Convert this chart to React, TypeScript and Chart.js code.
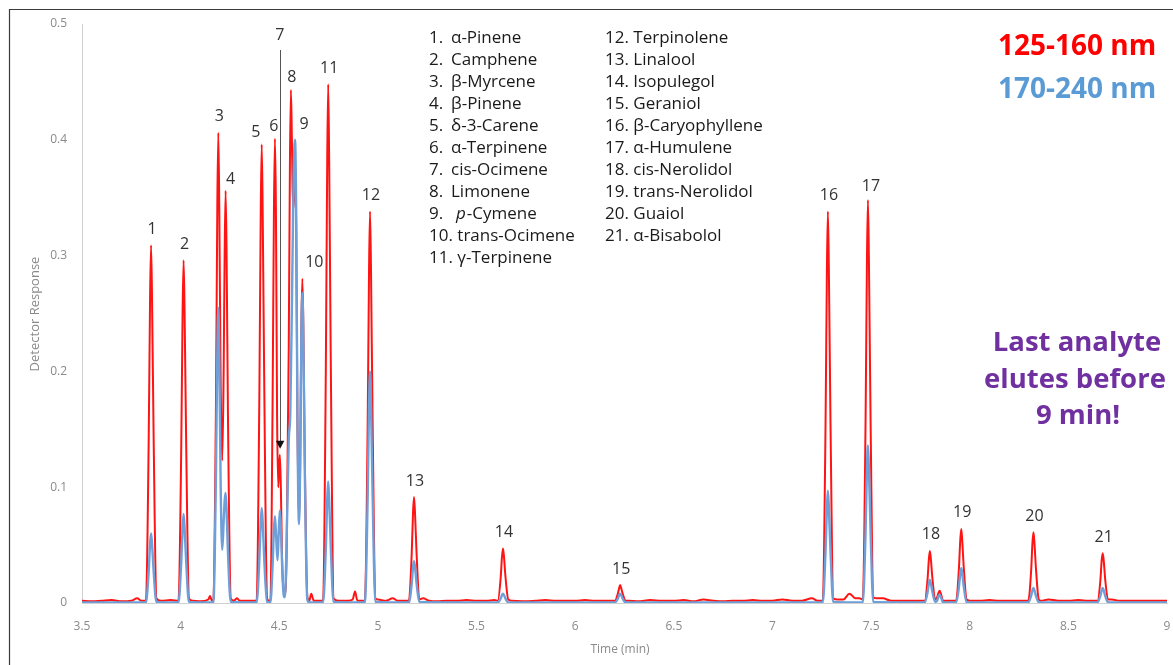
import React, { useEffect, useRef } from 'react';
import { Chart, registerables } from 'chart.js';

Chart.register(...registerables);

// ---------- data ----------
const xTickValues = [3.5, 4, 4.5, 5, 5.5, 6, 6.5, 7, 7.5, 8, 8.5, 9];
const yTickValues = [0, 0.1, 0.2, 0.3, 0.4, 0.5];

// 125-160 nm trace: [time (min), response]
const redTrace: [number, number][] = [
  [3.50, .002], [3.55, .0015], [3.60, .002], [3.65, .0025], [3.70, .0015], [3.75, .002], [3.78, .004], [3.80, .002],
  [3.824, .002], [3.838, .139], [3.845, .263], [3.850, .309], [3.855, .263], [3.863, .145], [3.877, .004],
  [3.90, .002], [3.95, .0025],
  [3.989, .002], [4.003, .133], [4.010, .252], [4.015, .296], [4.020, .252], [4.028, .139], [4.042, .004],
  [4.06, .002], [4.10, .0015], [4.14, .003], [4.149, .006], [4.158, .002],
  [4.166, .003], [4.179, .17], [4.186, .345], [4.191, .406], [4.196, .34], [4.203, .19], [4.211, .123],
  [4.218, .2], [4.223, .30], [4.228, .356], [4.233, .30], [4.240, .16], [4.254, .004],
  [4.27, .002], [4.286, .004], [4.30, .002], [4.35, .002], [4.375, .002],
  [4.385, .002], [4.399, .178], [4.406, .337], [4.411, .396], [4.416, .337], [4.424, .186], [4.438, .004],
  [4.447, .002],
  [4.455, .002], [4.466, .17], [4.473, .34], [4.478, .401], [4.483, .34], [4.489, .16], [4.495, .10],
  [4.499, .118], [4.503, .128], [4.508, .10], [4.514, .04], [4.521, .012], [4.529, .008], [4.537, .04],
  [4.548, .22], [4.554, .38], [4.559, .443], [4.564, .40], [4.570, .34], [4.575, .35], [4.580, .385],
  [4.586, .32], [4.592, .16], [4.600, .07], [4.606, .12], [4.612, .24], [4.617, .28], [4.622, .24],
  [4.629, .13], [4.642, .006],
  [4.652, .002], [4.662, .008], [4.675, .002], [4.70, .002],
  [4.722, .002], [4.736, .202], [4.743, .381], [4.748, .448], [4.753, .381], [4.761, .211], [4.775, .004],
  [4.80, .002], [4.85, .002], [4.872, .003], [4.884, .010], [4.896, .002], [4.92, .002],
  [4.934, .002], [4.948, .152], [4.955, .287], [4.960, .338], [4.965, .287], [4.973, .159], [4.987, .004],
  [5.00, .003], [5.04, .002], [5.075, .004], [5.10, .002], [5.14, .002],
  [5.157, .002], [5.171, .041], [5.178, .078], [5.183, .0915], [5.188, .078], [5.196, .043], [5.210, .003],
  [5.228, .004], [5.26, .002], [5.30, .0015], [5.35, .002], [5.40, .002], [5.45, .0025], [5.50, .002],
  [5.55, .002], [5.59, .0025],
  [5.608, .002], [5.622, .021], [5.629, .040], [5.634, .047], [5.639, .040], [5.647, .022], [5.661, .003],
  [5.68, .002], [5.75, .0015], [5.80, .002], [5.85, .0025], [5.90, .002], [5.95, .002], [6.00, .002],
  [6.05, .0025], [6.10, .002], [6.15, .002], [6.19, .002],
  [6.202, .002], [6.216, .008], [6.223, .013], [6.228, .0155], [6.233, .013], [6.241, .008], [6.255, .002],
  [6.27, .002], [6.32, .0015], [6.38, .0025], [6.44, .002], [6.50, .002], [6.55, .0025], [6.60, .0015],
  [6.65, .003], [6.70, .002], [6.75, .0015], [6.80, .002], [6.85, .002], [6.90, .0025], [6.95, .002],
  [7.00, .002], [7.05, .003], [7.10, .002], [7.15, .002], [7.20, .004], [7.23, .002],
  [7.255, .002], [7.269, .152], [7.276, .287], [7.281, .338], [7.286, .287], [7.294, .159], [7.308, .004],
  [7.33, .003], [7.36, .003], [7.39, .008], [7.40, .007], [7.42, .004], [7.44, .004],
  [7.458, .003], [7.472, .157], [7.479, .296], [7.484, .348], [7.489, .296], [7.497, .164], [7.511, .005],
  [7.53, .004], [7.56, .004], [7.60, .002], [7.65, .002], [7.70, .002], [7.75, .002],
  [7.772, .002], [7.786, .020], [7.793, .038], [7.798, .045], [7.803, .038], [7.811, .021], [7.825, .003],
  [7.835, .005], [7.842, .009], [7.848, .0105], [7.854, .008], [7.865, .002],
  [7.88, .002], [7.92, .002],
  [7.931, .002], [7.945, .029], [7.952, .054], [7.957, .064], [7.962, .054], [7.970, .030], [7.984, .003],
  [8.00, .002], [8.05, .002], [8.10, .0025], [8.15, .002], [8.20, .002], [8.25, .002], [8.28, .002],
  [8.297, .002], [8.311, .027], [8.318, .052], [8.323, .061], [8.328, .052], [8.336, .029], [8.350, .003],
  [8.36, .002], [8.40, .003], [8.45, .002], [8.50, .002], [8.55, .0025], [8.60, .002], [8.63, .002],
  [8.648, .002], [8.662, .019], [8.669, .037], [8.674, .043], [8.679, .037], [8.687, .020], [8.701, .003],
  [8.72, .003], [8.76, .002], [8.80, .002], [8.85, .002], [8.90, .002], [8.95, .002], [9.00, .002],
];

// 170-240 nm trace: [time (min), response]
const blueTrace: [number, number][] = [
  [3.50, .0005],
  [3.824, .0005], [3.838, .027], [3.845, .051], [3.850, .060], [3.855, .051], [3.863, .028], [3.877, .001],
  [3.989, .0005], [4.003, .035], [4.010, .065], [4.015, .077], [4.020, .065], [4.028, .036], [4.042, .001],
  [4.166, .0005], [4.179, .11], [4.186, .217], [4.191, .255], [4.196, .21], [4.203, .10], [4.211, .046],
  [4.218, .07], [4.223, .088], [4.228, .095], [4.233, .08], [4.240, .043], [4.254, .001],
  [4.385, .0005], [4.399, .037], [4.406, .07], [4.411, .082], [4.416, .07], [4.424, .037], [4.438, .001],
  [4.455, .0005], [4.466, .032], [4.473, .064], [4.478, .075], [4.484, .058], [4.491, .037], [4.497, .06],
  [4.503, .080], [4.509, .06], [4.516, .025], [4.523, .006], [4.529, .005], [4.538, .06], [4.548, .14],
  [4.556, .165], [4.565, .27], [4.573, .37], [4.580, .400], [4.586, .33], [4.592, .16], [4.600, .068],
  [4.606, .12], [4.612, .23], [4.617, .268], [4.622, .23], [4.629, .12], [4.642, .003], [4.652, .0005],
  [4.722, .0005], [4.736, .047], [4.743, .089], [4.748, .105], [4.753, .089], [4.761, .049], [4.775, .001],
  [4.934, .0005], [4.948, .090], [4.955, .170], [4.960, .200], [4.965, .170], [4.973, .094], [4.987, .001],
  [5.157, .0005], [5.171, .016], [5.178, .031], [5.183, .036], [5.188, .031], [5.196, .017], [5.210, .001],
  [5.608, .0005], [5.622, .0036], [5.629, .0068], [5.634, .008], [5.639, .0068], [5.647, .0038], [5.661, .0005],
  [6.202, .0005], [6.216, .0036], [6.223, .0068], [6.228, .008], [6.233, .0068], [6.241, .0038], [6.255, .0005],
  [7.255, .0005], [7.269, .044], [7.276, .082], [7.281, .097], [7.286, .082], [7.294, .046], [7.308, .001],
  [7.458, .0005], [7.472, .061], [7.479, .116], [7.484, .136], [7.489, .116], [7.497, .064], [7.511, .001],
  [7.772, .0005], [7.786, .009], [7.793, .017], [7.798, .020], [7.803, .017], [7.811, .0094], [7.825, .001],
  [7.835, .002], [7.842, .006], [7.848, .007], [7.854, .005], [7.865, .0005],
  [7.931, .0005], [7.945, .0135], [7.952, .0255], [7.957, .030], [7.962, .0255], [7.970, .014], [7.984, .0005],
  [8.297, .0005], [8.311, .006], [8.318, .011], [8.323, .013], [8.328, .011], [8.336, .006], [8.350, .0005],
  [8.648, .0005], [8.662, .006], [8.669, .011], [8.674, .013], [8.679, .011], [8.687, .006], [8.701, .0005],
  [9.00, .0005],
];

// peak annotations
const peakNumbers = [1, 2, 3, 4, 5, 6, 7, 8, 9, 10, 11, 12, 13, 14, 15, 16, 17, 18, 19, 20, 21];
const peakTimes = [3.850, 4.015, 4.191, 4.228, 4.411, 4.478, 4.503, 4.559, 4.580, 4.617, 4.748, 4.960,
  5.183, 5.634, 6.228, 7.281, 7.484, 7.798, 7.957, 8.323, 8.674];
const peakHeights = [.309, .296, .406, .356, .396, .401, .128, .443, .400, .280, .448, .338,
  .0915, .047, .0155, .338, .348, .045, .064, .061, .043];

const compoundNames = [
  'α-Pinene', 'Camphene', 'β-Myrcene', 'β-Pinene', 'δ-3-Carene', 'α-Terpinene', 'cis-Ocimene',
  'Limonene', 'p-Cymene', 'trans-Ocimene', 'γ-Terpinene', 'Terpinolene', 'Linalool', 'Isopulegol',
  'Geraniol', 'β-Caryophyllene', 'α-Humulene', 'cis-Nerolidol', 'trans-Nerolidol', 'Guaiol', 'α-Bisabolol',
];

const seriesNames = ['125-160 nm', '170-240 nm'];
const noteLines = ['Last analyte', 'elutes before', '9 min!'];

const RED = '#ff1414';
const BLUE = '#6e9fd9';
const FONT = "'Open Sans', 'Noto Sans', sans-serif";
const LIST_SIZE = 17;

const labelOffsets: Record<number, [number, number]> = {
  4: [5, -11], 5: [-6, -12], 6: [-1, -12], 8: [1, -13], 9: [9, -15], 10: [12, -16], 17: [3, -14],
};

const overlayPlugin = {
  id: 'overlay',
  afterDraw(chart: any) {
    const ctx: CanvasRenderingContext2D = chart.ctx;
    const xs = chart.scales.x;
    const ys = chart.scales.y;
    const area = chart.chartArea;
    ctx.save();

    // frame
    ctx.strokeStyle = '#3a3a3a';
    ctx.lineWidth = 1.2;
    ctx.beginPath();
    ctx.moveTo(9.5, 665);
    ctx.lineTo(9.5, 9.5);
    ctx.lineTo(1173, 9.5);
    ctx.stroke();

    // axis titles
    ctx.fillStyle = '#8a8a8a';
    ctx.font = `12px ${FONT}`;
    ctx.textAlign = 'center';
    ctx.textBaseline = 'middle';
    ctx.fillText('Time (min)', 620, 650);
    ctx.save();
    ctx.translate(35, 314);
    ctx.rotate(-Math.PI / 2);
    ctx.font = `13px ${FONT}`;
    ctx.fillText('Detector Response', 0, 0);
    ctx.restore();

    // peak labels
    ctx.fillStyle = '#333333';
    ctx.font = `16px ${FONT}`;
    peakNumbers.forEach((n, i) => {
      const px = xs.getPixelForValue(peakTimes[i]);
      const py = ys.getPixelForValue(peakHeights[i]);
      if (n === 7) {
        const top = area.top + 26;
        const tip = py - 6;
        ctx.fillText('7', px, area.top + 11);
        ctx.strokeStyle = '#555555';
        ctx.lineWidth = 1;
        ctx.beginPath();
        ctx.moveTo(Math.round(px) + 0.5, top);
        ctx.lineTo(Math.round(px) + 0.5, tip - 6);
        ctx.stroke();
        ctx.fillStyle = '#111111';
        ctx.beginPath();
        ctx.moveTo(px - 4, tip - 8);
        ctx.lineTo(px + 4.5, tip - 8);
        ctx.lineTo(px + 0.25, tip);
        ctx.closePath();
        ctx.fill();
        ctx.fillStyle = '#333333';
        return;
      }
      const off = labelOffsets[n] || [1, -16];
      ctx.fillText(String(n), px + off[0], py + off[1]);
    });

    // compound list
    ctx.textAlign = 'left';
    ctx.fillStyle = '#1a1a1a';
    ctx.font = `${LIST_SIZE}px ${FONT}`;
    const rowY = (r: number) => 38 + r * 22;
    compoundNames.forEach((name, i) => {
      const n = i + 1;
      if (n <= 11) {
        const y = rowY(i);
        if (n <= 9) {
          ctx.fillText(`${n}.`, 429, y);
          if (name.startsWith('p-')) {
            ctx.font = `italic ${LIST_SIZE}px ${FONT}`;
            ctx.fillText('p', 456, y);
            const w = ctx.measureText('p').width;
            ctx.font = `${LIST_SIZE}px ${FONT}`;
            ctx.fillText(name.slice(1), 456 + w + 1, y);
          } else {
            ctx.fillText(name, 451, y);
          }
        } else {
          ctx.fillText(`${n}. ${name}`, 429, y);
        }
      } else {
        ctx.fillText(`${n}. ${name}`, 605, rowY(i - 11));
      }
    });

    // series labels
    ctx.textAlign = 'center';
    ctx.font = `bold 28px ${FONT}`;
    ctx.fillStyle = '#ff0000';
    ctx.fillText(seriesNames[0], 1077, 47);
    ctx.fillStyle = '#5b9bd5';
    ctx.fillText(seriesNames[1], 1077, 90);

    // note
    ctx.fillStyle = '#7030a0';
    ctx.font = `bold 27.5px ${FONT}`;
    ctx.fillText(noteLines[0], 1077, 343);
    ctx.fillText(noteLines[1], 1075, 380);
    ctx.fillText(noteLines[2], 1078, 416);

    ctx.restore();
  },
};

export default function App() {
  const ref = useRef<HTMLCanvasElement>(null);

  useEffect(() => {
    if (!ref.current) return;
    const chart = new Chart(ref.current, {
      type: 'line',
      data: {
        datasets: [
          {
            label: seriesNames[1],
            data: blueTrace.map(([x, y]) => ({ x, y })),
            borderColor: BLUE,
            borderWidth: 2.4,
            pointRadius: 0,
            cubicInterpolationMode: 'monotone',
            fill: false,
          },
          {
            label: seriesNames[0],
            data: redTrace.map(([x, y]) => ({ x, y })),
            borderColor: RED,
            borderWidth: 2,
            pointRadius: 0,
            cubicInterpolationMode: 'monotone',
            fill: false,
          },
        ],
      },
      options: {
        animation: false,
        responsive: false,
        devicePixelRatio: 1,
        layout: { padding: { top: 24, right: 6, left: 0, bottom: 0 } },
        plugins: { legend: { display: false }, tooltip: { enabled: false } },
        scales: {
          x: {
            type: 'linear',
            min: 3.5,
            max: 9,
            afterBuildTicks: (s: any) => { s.ticks = xTickValues.map((v) => ({ value: v })); },
            afterFit: (s: any) => { s.height = 62; s.paddingLeft = 0; s.paddingRight = 0; },
            grid: { display: false, drawTicks: false },
            border: { display: true, color: '#d0d0d0', width: 1 },
            ticks: {
              color: '#8a8a8a', font: { family: FONT, size: 12 }, padding: 16, maxRotation: 0,
              callback: (v: any) => String(v),
            },
          },
          y: {
            type: 'linear',
            min: 0,
            max: 0.5,
            afterBuildTicks: (s: any) => { s.ticks = yTickValues.map((v) => ({ value: v })); },
            afterFit: (s: any) => { s.width = 82; s.paddingTop = 0; s.paddingBottom = 0; },
            grid: { display: false, drawTicks: false },
            border: { display: true, color: '#d0d0d0', width: 1 },
            ticks: {
              color: '#8a8a8a', font: { family: FONT, size: 12 }, padding: 15,
              callback: (v: any) => String(v),
            },
          },
        },
      },
      plugins: [overlayPlugin],
    });
    return () => chart.destroy();
  }, []);

  return (
    <div style={{ position: 'fixed', left: 0, top: 0, width: 1173, height: 665, background: '#ffffff' }}>
      <canvas ref={ref} width={1173} height={665} style={{ display: 'block' }} />
    </div>
  );
}
